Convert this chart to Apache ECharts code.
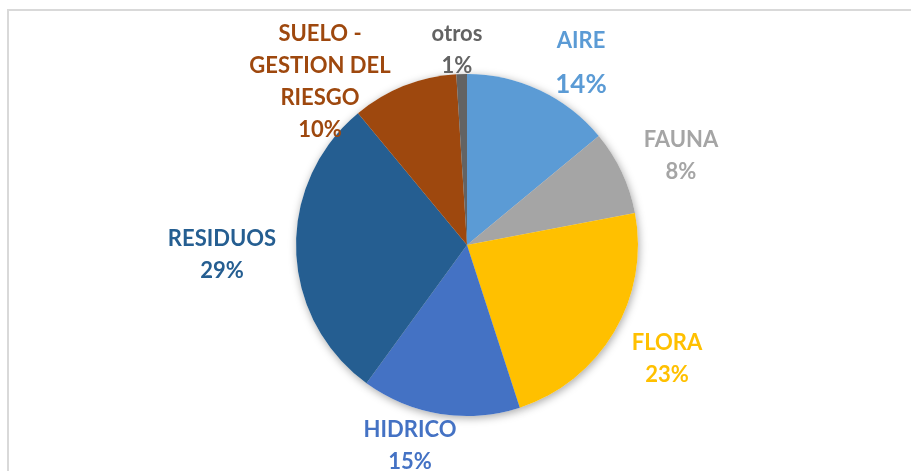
<!DOCTYPE html>
<html>
<head>
<meta charset="utf-8">
<script src="https://cdn.jsdelivr.net/npm/echarts@6/dist/echarts.min.js"></script>
<style>
html,body{margin:0;padding:0;background:#fff;}
#chart{width:911px;height:471px;}
</style>
</head>
<body>
<div id="chart"></div>
<script>
const categories = ['AIRE', 'FAUNA', 'FLORA', 'HIDRICO', 'RESIDUOS', 'SUELO - GESTION DEL RIESGO', 'otros'];
const values = [14, 8, 23, 15, 29, 10, 1];
const colors = ['#5B9BD5', '#A5A5A5', '#FFC000', '#4472C4', '#255E91', '#9E480E', '#636363'];

// label block centres (text placement only)
const labelPos = {
  'AIRE': [581, 69],
  'FAUNA': [681, 156],
  'FLORA': [667, 359],
  'HIDRICO': [410, 446],
  'RESIDUOS': [222, 255],
  'SUELO - GESTION DEL RIESGO': [320, 82],
  'otros': [457, 50]
};

function wrapName(name) {
  return name.replace(' - ', ' -\n').replace(' RIESGO', '\nRIESGO');
}

const chart = echarts.init(document.getElementById('chart'), null, {renderer: 'canvas'});

const data = categories.map((c, i) => {
  const item = {name: c, value: values[i], itemStyle: {color: colors[i]}, label: {color: colors[i]}};
  return item;
});

const option = {
  animation: false,
  backgroundColor: '#ffffff',
  graphic: [{
    type: 'rect',
    shape: {x: 8, y: 10, width: 1200, height: 1000},
    style: {fill: 'none', stroke: '#d9d9d9', lineWidth: 2},
    silent: true,
    z: -10
  }],
  series: [
    {
      type: 'pie',
      silent: true,
      center: [467, 245],
      radius: 171,
      startAngle: 90,
      label: {show: false},
      labelLine: {show: false},
      itemStyle: {color: '#ffffff', shadowBlur: 8, shadowColor: 'rgba(0,0,0,0.35)', shadowOffsetX: 1, shadowOffsetY: 2},
      data: values.map(v => ({value: v})),
      z: 1
    },
    {
      type: 'pie',
      center: [467, 245],
      radius: 171,
      startAngle: 90,
      clockwise: true,
      avoidLabelOverlap: false,
      itemStyle: {borderWidth: 0},
      labelLine: {show: false},
      label: {
        show: true,
        position: 'outside',
        fontFamily: 'Lato',
        fontWeight: 'bold',
        formatter: function (p) {
          const lines = wrapName(p.name).split('\n').map(s => '{n|' + s + '}');
          const pct = p.name === 'AIRE' ? '{pb|' + p.value + '%}' : '{p|' + p.value + '%}';
          return lines.join('\n') + '\n' + pct;
        },
        rich: {
          n: {fontFamily: 'Lato', fontWeight: 'bold', fontSize: 22, lineHeight: 32},
          p: {fontFamily: 'Lato', fontWeight: 'bold', fontSize: 22, lineHeight: 32},
          pb: {fontFamily: 'Lato', fontWeight: 'bold', fontSize: 26, lineHeight: 56}
        }
      },
      labelLayout: function (params) {
        const name = categories[params.dataIndex];
        const pos = labelPos[name];
        return {x: pos[0], y: pos[1], align: 'center', verticalAlign: 'middle'};
      },
      data: data,
      z: 2
    }
  ]
};
chart.setOption(option);
</script>
</body>
</html>
